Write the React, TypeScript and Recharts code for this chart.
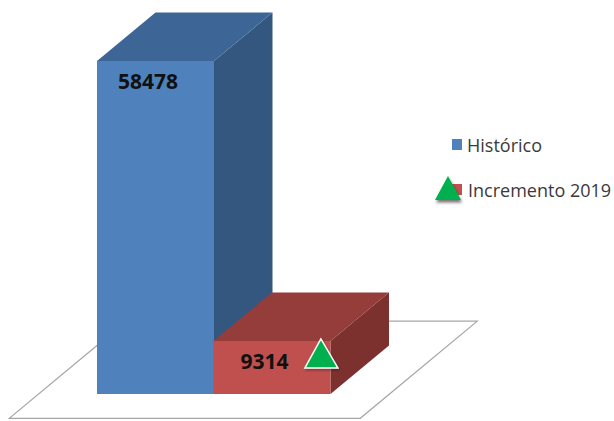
import React from "react";
import { BarChart, Bar, XAxis, YAxis, LabelList, Legend, Cell } from "recharts";

const categories = ["Histórico", "Incremento 2019"];
const values = [58478, 9314];

const FRONT = ["#4F81BD", "#C0504D"];
const TOP = ["#3D6696", "#943D3A"];
const SIDE = ["#34577F", "#7D312F"];
const GREEN = "#00B050";

const data = categories.map((name, i) => ({ name, value: values[i] }));

const FONT = "'Open Sans', 'DejaVu Sans', sans-serif";

const Box3D = (props: any) => {
  const { x, y, width: w, height: h, index } = props;
  const dx = w * 0.5;
  const dy = dx * 0.83;
  const B = y + h;
  const parts: React.ReactNode[] = [];
  if (index === 0) {
    const n = categories.length;
    const flx = x - 1.5 * dx;
    const fy = B + dy / 2;
    const frx = x + n * w + 0.5 * dx;
    const by = B - 1.5 * dy;
    parts.push(
      <polygon
        key="floor"
        points={`${flx},${fy} ${frx},${fy} ${frx + 2 * dx},${by} ${flx + 2 * dx},${by}`}
        fill="#FFFFFF"
        stroke="#A6A6A6"
        strokeWidth={1.2}
      />
    );
  }
  parts.push(
    <polygon
      key="side"
      points={`${x + w},${y} ${x + w + dx},${y - dy} ${x + w + dx},${B - dy} ${x + w},${B}`}
      fill={SIDE[index]}
    />
  );
  parts.push(
    <polygon
      key="top"
      points={`${x},${y} ${x + dx},${y - dy} ${x + w + dx},${y - dy} ${x + w},${y}`}
      fill={TOP[index]}
    />
  );
  parts.push(<rect key="front" x={x} y={y} width={w} height={h} fill={FRONT[index]} />);
  if (index === 1) {
    const ax = x + w * 0.918;
    const ay = y - 2;
    parts.push(
      <polygon
        key="tri"
        points={`${ax},${ay} ${ax - 16},${ay + 29} ${ax + 17},${ay + 29}`}
        fill={GREEN}
        stroke="#FFFFFF"
        strokeWidth={1.5}
        filter="url(#triShadow)"
      />
    );
  }
  return <g>{parts}</g>;
};

const renderLabel = (props: any) => {
  const { x, y, width, value } = props;
  return (
    <text
      x={x + width / 2 - 7.5}
      y={y + 20}
      textAnchor="middle"
      dominantBaseline="central"
      fontFamily={FONT}
      fontWeight={700}
      fontSize={21}
      fill="#111111"
    >
      {value}
    </text>
  );
};

const renderLegend = () => (
  <svg width={184} height={90} style={{ overflow: "visible" }}>
    <defs>
      <filter id="legShadow" x="-50%" y="-50%" width="200%" height="200%">
        <feDropShadow dx="1" dy="2.5" stdDeviation="1.5" floodColor="#000" floodOpacity="0.55" />
      </filter>
    </defs>
    <rect x={22} y={9} width={10} height={11} fill={FRONT[0]} />
    <text x={37} y={15} dominantBaseline="central" fontFamily={FONT} fontSize={18} fill="#3A3A3A">
      {categories[0]}
    </text>
    <rect x={22} y={54} width={10} height={11} fill={FRONT[1]} />
    <polygon points="18,46 5,70 31,70" fill={GREEN} filter="url(#legShadow)" />
    <text x={38} y={60} dominantBaseline="central" fontFamily={FONT} fontSize={18} fill="#3A3A3A">
      {categories[1]}
    </text>
  </svg>
);

export default function App() {
  return (
    <div style={{ position: "absolute", left: 0, top: 0 }}>
      <BarChart
        width={614}
        height={421}
        data={data}
        margin={{ top: 61, right: 284, bottom: 27, left: 97 }}
        barCategoryGap={0}
      >
        <defs>
          <filter id="triShadow" x="-50%" y="-50%" width="200%" height="200%">
            <feDropShadow dx="1" dy="1.5" stdDeviation="1.2" floodColor="#000" floodOpacity="0.35" />
          </filter>
        </defs>
        <XAxis dataKey="name" hide />
        <YAxis hide domain={[0, "dataMax"]} />
        <Legend
          layout="vertical"
          align="center"
          verticalAlign="middle"
          content={renderLegend}
          wrapperStyle={{ left: 430, top: 130, width: 184, height: 90 }}
        />
        <Bar dataKey="value" shape={<Box3D />} isAnimationActive={false}>
          {data.map((d, i) => (
            <Cell key={d.name} fill={FRONT[i]} />
          ))}
          <LabelList dataKey="value" content={renderLabel} />
        </Bar>
      </BarChart>
    </div>
  );
}
